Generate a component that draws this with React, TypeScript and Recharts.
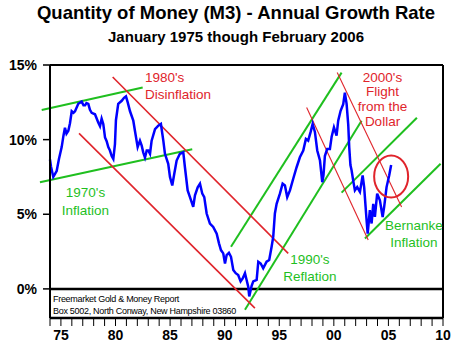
import { Line, LineChart, ReferenceDot, ReferenceLine, XAxis, YAxis } from 'recharts'

// M3 annual growth rate (%), x in chart years
const years = [
  1974.0, 1974.09, 1974.3, 1974.46, 1974.61, 1974.82, 1975.07, 1975.24, 1975.37, 1975.51,
  1975.68, 1975.83, 1975.99, 1976.15, 1976.29, 1976.59, 1976.9, 1977.07, 1977.21, 1977.34,
  1977.51, 1977.66, 1977.82, 1978.12, 1978.42, 1978.58, 1978.73, 1978.88, 1979.04, 1979.19,
  1979.34, 1979.49, 1979.65, 1979.8, 1979.95, 1980.04, 1980.25, 1980.57, 1980.78, 1980.96,
  1981.12, 1981.33, 1981.63, 1981.78, 1982.03, 1982.24, 1982.4, 1982.54, 1982.7, 1982.86,
  1983.0, 1983.16, 1983.31, 1983.62, 1983.92, 1984.16, 1984.38, 1984.53, 1984.83, 1984.99,
  1985.2, 1985.38, 1985.6, 1985.9, 1986.21, 1986.36, 1986.61, 1986.82, 1987.12, 1987.28,
  1987.53, 1987.74, 1987.95, 1988.13, 1988.35, 1988.65, 1988.95, 1989.27, 1989.48, 1989.66,
  1989.87, 1990.03, 1990.18, 1990.39, 1990.58, 1990.79, 1991.01, 1991.24, 1991.46, 1991.65,
  1991.86, 1992.01, 1992.16, 1992.25, 1992.47, 1992.62, 1992.93, 1993.08, 1993.3, 1993.53,
  1993.84, 1994.08, 1994.3, 1994.45, 1994.6, 1994.76, 1995.06, 1995.31, 1995.52, 1995.73,
  1995.98, 1996.28, 1996.59, 1996.89, 1997.2, 1997.44, 1997.65, 1997.87, 1998.06, 1998.27,
  1998.48, 1998.73, 1998.94, 1999.05, 1999.18, 1999.39, 1999.64, 1999.8, 2000.01, 2000.25,
  2000.4, 2000.62, 2000.86, 2001.01, 2001.17, 2001.32, 2001.41, 2001.52, 2001.63, 2001.77,
  2001.93, 2002.14, 2002.39, 2002.64, 2002.78, 2002.91, 2003.0, 2003.1, 2003.3, 2003.46,
  2003.61, 2003.76, 2003.97, 2004.22, 2004.47, 2004.61, 2004.83, 2005.07, 2005.25,
]
const growth = [
  8.67, 8.2, 7.5, 7.7, 7.9, 8.7, 9.5, 10.3, 10.8, 10.4,
  10.6, 11.1, 11.9, 11.8, 11.9, 12.4, 12.55, 12.3, 12.3, 12.45,
  12.4, 12.0, 11.8, 11.7, 11.15, 10.9, 11.4, 11.05, 10.15, 9.9,
  9.5, 9.27, 8.9, 8.7, 9.7, 11.3, 12.4, 12.6, 12.8, 12.9,
  12.5, 11.9, 11.27, 10.6, 9.5, 9.93, 9.6, 9.15, 8.8, 9.27,
  9.27, 9.05, 9.93, 10.7, 10.93, 11.05, 9.93, 9.05, 8.38, 7.5,
  6.93, 7.7, 8.6, 9.05, 9.15, 8.15, 6.6, 6.15, 5.5, 6.27,
  6.8, 7.05, 6.38, 6.15, 5.05, 4.38, 4.15, 3.7, 3.05, 2.6,
  2.38, 1.7, 2.27, 2.42, 2.15, 1.27, 1.05, 0.93, 0.5, 0.7,
  1.05, 0.6, 0.15, -0.5, 0.2, 0.5, 0.6, 1.82, 1.7, 1.38,
  1.82, 1.93, 2.82, 3.5, 5.05, 5.7, 6.38, 7.05, 6.93, 6.15,
  6.6, 7.38, 8.15, 8.82, 9.27, 10.05, 9.93, 10.5, 11.05, 10.5,
  9.27, 8.6, 7.15, 7.6, 8.9, 9.38, 9.38, 10.2, 10.82, 10.27,
  11.27, 11.93, 12.38, 13.15, 12.4, 11.0, 9.5, 8.3, 7.93, 7.27,
  6.6, 6.82, 6.5, 7.6, 6.8, 5.5, 4.6, 3.7, 5.27, 4.38,
  5.7, 4.82, 6.38, 5.93, 4.82, 5.5, 6.82, 7.6, 8.3,
]
const data = years.map((year, i) => ({ year, growth: growth[i] }))

const labelYears = [1975, 1980, 1985, 1990, 1995, 2000, 2005, 2010]
const xLabels = ['75', '80', '85', '90', '95', '00', '05', '10']
const yTicks = [0, 5, 10, 15]
const minorTicks = Array.from({ length: 37 }, (_, i) => 1974 + i)

// trend channels drawn on the original
const greenLines = [
  [[1973.24, 11.98], [1982.49, 13.49]],
  [[1973.08, 7.15], [1987.03, 9.35]],
  [[1990.58, 2.82], [2000.71, 14.49]],
  [[1991.86, -1.4], [2002.54, 11.27]],
  [[2000.71, 6.45], [2007.61, 11.47]],
  [[2002.85, 3.38], [2009.78, 8.38]],
]
const redLines = [
  [[1979.74, 14.2], [1995.82, 2.38]],
  [[1976.66, 10.42], [1992.77, -1.29]],
  [[1997.51, 12.15], [2003.15, 3.27]],
  [[2000.31, 14.49], [2006.21, 5.49]],
]

const GREEN = '#1fbf1f'
const RED = '#e0242b'
const FONT = 'Arial, "Liberation Sans", sans-serif'

const notes = [
  { x: 1982.7, y: 14.2, lines: ["1980's", 'Disinflation'], color: RED, anchor: 'start' },
  { x: 1977.25, y: 6.47, lines: ["1970's", 'Inflation'], color: GREEN, anchor: 'middle' },
  { x: 1997.81, y: 2.0, lines: ["1990's", 'Reflation'], color: GREEN, anchor: 'middle' },
  { x: 2004.46, y: 14.2, lines: ["2000's", 'Flight', 'from the', 'Dollar'], color: RED, anchor: 'middle' },
  { x: 2007.33, y: 4.27, lines: ['Bernanke', 'Inflation'], color: GREEN, anchor: 'middle' },
]

function XTick(props: any) {
  const { x, y, payload } = props
  const i = labelYears.indexOf(payload.value)
  if (i < 0) return <g />
  return (
    <text x={x} y={y} dy="0.71em" textAnchor="middle" fontSize={14} fontWeight="bold" fill="#000" fontFamily={FONT}>
      {xLabels[i]}
    </text>
  )
}

export default function App() {
  return (
    <div style={{ position: 'absolute', left: 0, top: 0, width: 472, height: 357, background: '#fff', fontFamily: FONT }}>
      <div style={{ position: 'absolute', top: 2, width: 472, textAlign: 'center', fontSize: 18.5, fontWeight: 'bold', lineHeight: '22px' }}>
        Quantity of Money (M3) - Annual Growth Rate
      </div>
      <div style={{ position: 'absolute', top: 28, width: 472, textAlign: 'center', fontSize: 15, fontWeight: 'bold', lineHeight: '18px' }}>
        January 1975 though February 2006
      </div>
      <LineChart width={472} height={357} data={data} margin={{ top: 65, right: 29, bottom: 0, left: 0 }}>
        <XAxis
          dataKey="year"
          type="number"
          domain={[1974, 2010]}
          ticks={minorTicks}
          interval={0}
          tick={<XTick />}
          tickSize={8}
          tickMargin={4}
          height={39}
          axisLine={{ stroke: '#000', strokeWidth: 2.5 }}
          tickLine={{ stroke: '#000', strokeWidth: 1 }}
        />
        <YAxis
          type="number"
          domain={[-1.95, 15]}
          ticks={yTicks}
          width={50}
          tickSize={7}
          tickMargin={6}
          tickFormatter={(v) => `${v}%`}
          tick={{ fontSize: 14, fontWeight: 'bold', fill: '#000', fontFamily: FONT }}
          axisLine={{ stroke: '#000', strokeWidth: 2 }}
          tickLine={{ stroke: '#000', strokeWidth: 1.5 }}
        />
        <ReferenceLine y={15} stroke="#000" strokeWidth={2} />
        <ReferenceLine x={2010} stroke="#000" strokeWidth={2} />
        <ReferenceLine y={0} stroke="#000" strokeWidth={2.5} />
        {greenLines.map((s, i) => (
          <ReferenceLine
            key={`g${i}`}
            segment={[{ x: s[0][0], y: s[0][1] }, { x: s[1][0], y: s[1][1] }]}
            stroke={GREEN}
            strokeWidth={2}
            ifOverflow="visible"
          />
        ))}
        {redLines.map((s, i) => (
          <ReferenceLine
            key={`r${i}`}
            segment={[{ x: s[0][0], y: s[0][1] }, { x: s[1][0], y: s[1][1] }]}
            stroke={RED}
            strokeWidth={i < 2 ? 1.6 : 1.1}
            ifOverflow="visible"
          />
        ))}
        <Line type="linear" dataKey="growth" stroke="#0000ff" strokeWidth={2.5} dot={false} isAnimationActive={false} />
        <ReferenceDot
          x={2005.25}
          y={7.53}
          ifOverflow="visible"
          shape={(p: any) => <ellipse cx={p.cx} cy={p.cy} rx={17} ry={21} fill="none" stroke={RED} strokeWidth={2} />}
        />
        {notes.map((n, i) => (
          <ReferenceDot
            key={`n${i}`}
            x={n.x}
            y={n.y}
            ifOverflow="visible"
            shape={(p: any) => (
              <text x={p.cx} y={p.cy} textAnchor={n.anchor} fill={n.color} fontSize={13.5} fontFamily={FONT}>
                {n.lines.map((l, j) => (
                  <tspan key={j} x={p.cx} dy={j === 0 ? '0.35em' : n.lines.length > 2 ? 14.8 : 17.5}>
                    {l}
                  </tspan>
                ))}
              </text>
            )}
          />
        ))}
      </LineChart>
      <div style={{ position: 'absolute', left: 53, top: 293, fontSize: 9, letterSpacing: -0.3, lineHeight: '12px', color: '#000' }}>
        Freemarket Gold &amp; Money Report
        <br />
        Box 5002, North Conway, New Hampshire 03860
      </div>
    </div>
  )
}
